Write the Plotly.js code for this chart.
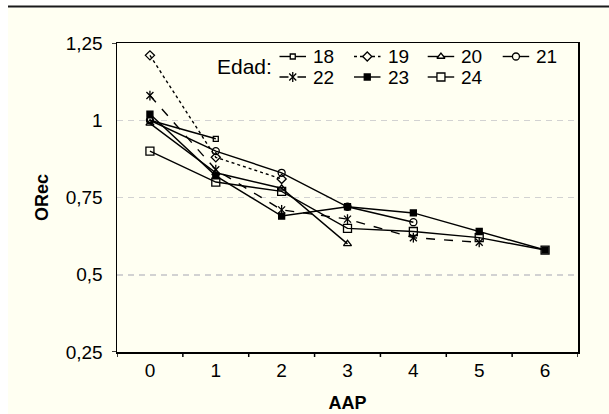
<!DOCTYPE html>
<html>
<head>
<meta charset="utf-8">
<script src="https://cdn.plot.ly/plotly-3.0.1.min.js"></script>
<style>html,body{margin:0;padding:0;background:#fff;}#chart{width:609px;height:414px;}</style>
</head>
<body>
<div id="chart"></div>
<script>
// ---- data ----
const categories = ['0', '1', '2', '3', '4', '5', '6'];
const ages = ['18', '19', '20', '21', '22', '23', '24'];
const orec18 = [1.00, 0.94];
const orec19 = [1.21, 0.88, 0.81];
const orec20 = [0.99, 0.83, 0.78, 0.60];
const orec21 = [1.00, 0.90, 0.83, 0.72, 0.67];
const orec22 = [1.08, 0.84, 0.71, 0.68, 0.62, 0.605];
const orec23 = [1.02, 0.82, 0.69, 0.72, 0.70, 0.64, 0.58];
const orec24 = [0.90, 0.80, 0.77, 0.65, 0.64, 0.62, 0.58];
const yTickVals = [0.25, 0.5, 0.75, 1, 1.25];
const yTickText = ['0,25', '0,5', '0,75', '1', '1,25'];
const legendTitle = 'Edad:';
const xTitle = 'AAP';
const yTitle = 'ORec';

const series = [orec18, orec19, orec20, orec21, orec22, orec23, orec24];

// ---- styles ----
const FONT = '"Liberation Sans", Arial, Helvetica, sans-serif';
const BG = '#FFFFF2';
const styles = [
  {dash: 'solid', symbol: 'square-open', size: 5},
  {dash: 'dot', symbol: 'diamond-open', size: 7},
  {dash: 'solid', symbol: 'triangle-up-open', size: 7},
  {dash: 'solid', symbol: 'circle-open', size: 7},
  {dash: 'dash', symbol: 'x-thin-open', size: 7, extra: 'line-ns-open'},
  {dash: 'solid', symbol: 'square', size: 6},
  {dash: 'solid', symbol: 'square-open', size: 8}
];

function isLineSymbol(s) { return s === 'x-thin-open' || s === 'line-ns-open'; }

const traces = [];
series.forEach(function (vals, i) {
  const st = styles[i];
  const xs = categories.slice(0, vals.length);
  traces.push({
    x: xs, y: vals, type: 'scatter', mode: 'lines+markers',
    xaxis: 'x', yaxis: 'y',
    line: {color: '#000', width: 1.4, dash: st.dash},
    marker: {symbol: st.symbol, size: st.size, color: '#000', line: {color: '#000', width: 1.3}},
    showlegend: false, hoverinfo: 'skip', cliponaxis: false
  });
  if (st.extra) {
    traces.push({
      x: xs, y: vals, type: 'scatter', mode: 'markers',
      xaxis: 'x', yaxis: 'y',
      marker: {symbol: st.extra, size: st.size, color: '#000', line: {color: '#000', width: 1.3}},
      showlegend: false, hoverinfo: 'skip', cliponaxis: false
    });
  }
});

// ---- hand-made legend on a pixel-space overlay axis ----
const colX = [279.5, 354, 427.7, 502.7];
const rowY = [56.5, 77];
const textY = [56.5, 77];
const annotations = [];
ages.forEach(function (age, i) {
  const st = styles[i];
  const c = i % 4, r = Math.floor(i / 4);
  const x0 = colX[c], x1 = colX[c] + 26.5, xm = (x0 + x1) / 2;
  traces.push({
    x: [x0, x1], y: [rowY[r], rowY[r]], type: 'scatter', mode: 'lines',
    xaxis: 'x2', yaxis: 'y2',
    line: {color: '#000', width: 1.4, dash: st.dash},
    showlegend: false, hoverinfo: 'skip'
  });
  const syms = [st.symbol].concat(st.extra ? [st.extra] : []);
  syms.forEach(function (s) {
    let sym = s, col = '#000';
    if (s.indexOf('-open') >= 0 && !isLineSymbol(s)) { sym = s.replace('-open', ''); col = BG; }
    traces.push({
      x: [xm], y: [rowY[r]], type: 'scatter', mode: 'markers',
      xaxis: 'x2', yaxis: 'y2',
      marker: {symbol: sym, size: st.size, color: col, line: {color: '#000', width: 1.3}},
      showlegend: false, hoverinfo: 'skip'
    });
  });
  annotations.push({
    xref: 'x2', yref: 'y2', x: x1 + 6, y: textY[r], text: age,
    showarrow: false, xanchor: 'left', yanchor: 'middle', borderpad: 0,
    font: {family: FONT, size: 19, color: '#000'}
  });
});
annotations.push({
  xref: 'x2', yref: 'y2', x: 244, y: 66.5, text: legendTitle,
  showarrow: false, xanchor: 'center', yanchor: 'middle', borderpad: 0,
  font: {family: FONT, size: 21, color: '#000'}
});

// decoration shapes: background panel, top rule, axis overshoot ticks
const shapes = [
  {type: 'rect', xref: 'paper', yref: 'paper', x0: -109 / 461, x1: 492 / 461, y0: -62 / 309, y1: 1 + 35 / 309,
   fillcolor: BG, line: {width: 0}, layer: 'below'},
  {type: 'line', xref: 'paper', yref: 'paper', x0: -109 / 461, x1: 492 / 461, y0: 1 + 36.5 / 309, y1: 1 + 36.5 / 309,
   line: {color: '#1a1a1a', width: 2}},
  {type: 'line', xref: 'paper', yref: 'y', x0: -5 / 461, x1: 0, y0: 1.25, y1: 1.25, line: {color: '#000', width: 1.5}},
  {type: 'line', xref: 'paper', yref: 'y', x0: -5 / 461, x1: 0, y0: 0.25, y1: 0.25, line: {color: '#000', width: 1.5}}
];
// x ticks on category boundaries
for (let k = 0; k <= categories.length; k++) {
  shapes.push({type: 'line', xref: 'x', yref: 'paper', x0: k - 0.5, x1: k - 0.5, y0: -5 / 309, y1: 0,
               line: {color: '#000', width: 1.5}});
}

const layout = {
  width: 609, height: 414,
  margin: {l: 117, r: 31, t: 43, b: 62, pad: 0},
  paper_bgcolor: '#ffffff',
  plot_bgcolor: 'rgba(0,0,0,0)',
  font: {family: FONT, size: 18, color: '#000'},
  showlegend: false,
  xaxis: {
    type: 'category', categoryorder: 'array', categoryarray: categories,
    range: [-0.5, 6.5], fixedrange: true,
    showline: true, mirror: true, linecolor: '#000', linewidth: 1.5,
    ticks: '', ticklabelstandoff: 1,
    showgrid: false, zeroline: false,
    tickfont: {family: FONT, size: 19, color: '#000'},
    title: {text: '<b>' + xTitle + '</b>', font: {family: FONT, size: 18, color: '#000'}, standoff: 16}
  },
  yaxis: {
    range: [0.25, 1.25], fixedrange: true,
    tickvals: yTickVals, ticktext: yTickText,
    showline: true, mirror: true, linecolor: '#000', linewidth: 1.5,
    ticks: '', ticklabelstandoff: 9,
    showgrid: true, gridcolor: '#d2d2d2', gridwidth: 1.5, griddash: '6px,5px',
    zeroline: false,
    tickfont: {family: FONT, size: 19, color: '#000'},
    title: {text: '<b>' + yTitle + '</b>', font: {family: FONT, size: 18, color: '#000'}, standoff: 12}
  },
  xaxis2: {overlaying: 'x', anchor: 'y2', range: [117, 578], visible: false, fixedrange: true},
  yaxis2: {overlaying: 'y', anchor: 'x2', range: [352, 43], visible: false, fixedrange: true},
  annotations: annotations,
  shapes: shapes
};

Plotly.newPlot('chart', traces, layout, {staticPlot: true, displayModeBar: false});
</script>
</body>
</html>
